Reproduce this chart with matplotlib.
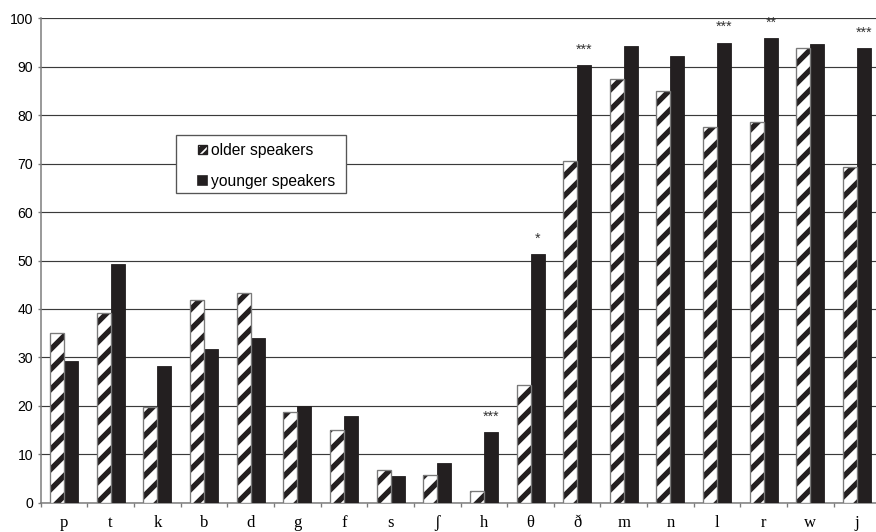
import numpy as np
import matplotlib
matplotlib.use("Agg")
import matplotlib.pyplot as plt
from matplotlib.patches import Patch, Rectangle

categories = ["p", "t", "k", "b", "d", "g", "f", "s", "\u0283", "h",
              "\u03b8", "\u00f0", "m", "n", "l", "r", "w", "j"]
older = [35.0, 39.2, 19.8, 41.8, 43.3, 18.7, 15.0, 6.7, 5.7, 2.4,
         24.2, 70.5, 87.5, 85.0, 77.5, 78.5, 93.8, 69.2]
younger = [29.2, 49.3, 28.2, 31.8, 34.1, 20.0, 17.9, 5.5, 8.2, 14.6,
           51.3, 90.4, 94.3, 92.2, 95.0, 96.0, 94.7, 93.9]
stars = {"h": "***", "\u03b8": "*", "\u00f0": "***", "l": "***", "r": "**", "j": "***"}

dark = "#231f20"
plt.rcParams["hatch.linewidth"] = 3.2
plt.rcParams["font.family"] = ["Liberation Sans", "DejaVu Sans"]

W, H = 876, 532
Figure = plt.figure(figsize=(W / 120, H / 120), dpi=120)
ax = Figure.add_axes([40.7 / W, 29.3 / H, 839.7 / W, 484.4 / H])

x = np.arange(len(categories))
bw = 0.3

# older speakers: hatched, then thin grey outline on top
ax.bar(x - bw / 2, older, bw, color="white", edgecolor=dark, hatch="//", linewidth=0, zorder=3)
ax.bar(x - bw / 2, older, bw, fill=False, edgecolor="#7a7a7a", linewidth=0.8, zorder=4)
ax.bar(x + bw / 2, younger, bw, color=dark, edgecolor=dark, linewidth=0.5, zorder=3)

for i, c in enumerate(categories):
    if c in stars:
        ax.annotate(stars[c], (x[i] + bw / 2, younger[i]), xytext=(0, 5), textcoords="offset points",
                    ha="center", va="bottom", fontsize=8.5, color="#333333", zorder=5)

ax.set_xlim(-0.5, len(categories) - 0.5)
ax.set_ylim(0, 100)
ax.set_yticks(np.arange(0, 101, 10))
ax.yaxis.grid(True, color="#3a3a3a", linewidth=0.7, zorder=1)
ax.set_axisbelow(True)

ax.set_xticks(x)
ax.set_xticklabels(categories, family=["Liberation Serif", "DejaVu Serif"], fontsize=10)
ax.set_xticks(np.arange(-0.5, len(categories), 1.0), minor=True)
ax.tick_params(axis="x", which="major", length=0, pad=7.5)
ax.tick_params(axis="x", which="minor", length=2.2, width=0.8, color="#7a7a7a", direction="out")
ax.tick_params(axis="y", length=2.0, width=0.8, color="#7a7a7a", pad=2.5, labelsize=8.4)

for s in ["top", "right"]:
    ax.spines[s].set_visible(False)
for s in ["left", "bottom"]:
    ax.spines[s].set_color("#7a7a7a")
    ax.spines[s].set_linewidth(0.9)

# legend box drawn by hand, legend entries placed inside it
Figure.patches.append(Rectangle((175.7 / W, 1 - 193.3 / H), 170 / W, 58.3 / H,
                                transform=Figure.transFigure, facecolor="white",
                                edgecolor="#555555", linewidth=0.8, zorder=5))
handles = [Patch(facecolor="white", edgecolor=dark, hatch="////", linewidth=0.8),
           Patch(facecolor=dark, edgecolor=dark)]
leg = Figure.legend(handles, ["older speakers", "younger speakers"],
                    loc="upper left", bbox_to_anchor=(195 / W, 1 - 140 / H),
                    fontsize=9.4, frameon=False, handlelength=0.55, handleheight=0.55,
                    handletextpad=0.25, labelspacing=1.0, borderpad=0.2, borderaxespad=0)
leg.set_zorder(6)

Figure.savefig("out.png", dpi=120)
